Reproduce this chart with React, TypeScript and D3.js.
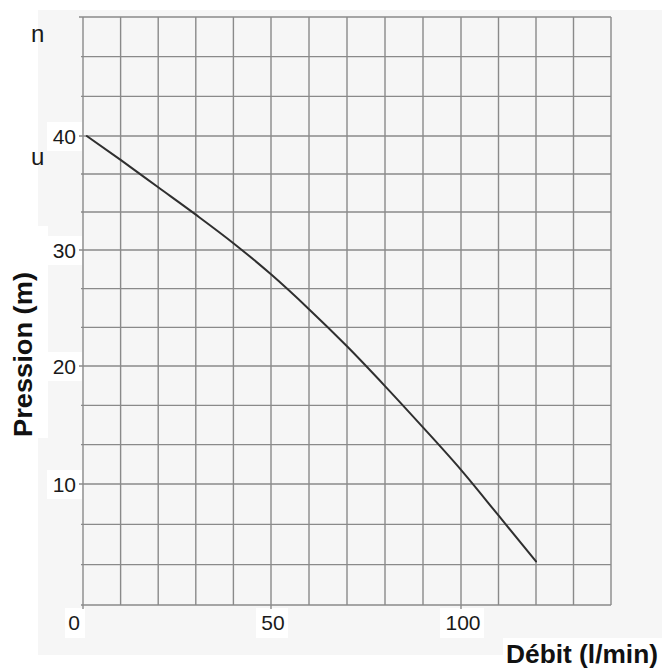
import React from "react";
import * as d3 from "d3";

const flow = [1, 10, 20, 30, 40, 50, 60, 70, 80, 90, 100, 110, 120];
const pressure = [40, 37.9, 35.5, 33.1, 30.6, 27.9, 24.9, 21.7, 18.3, 14.8, 11.2, 7.4, 3.6];
const xTickLabels = [0, 50, 100];
const yTickLabels = [10, 20, 30, 40];
const xTitle = "Débit (l/min)";
const yTitle = "Pression (m)";

const W = 662;
const H = 668;
const FONT = "'Liberation Sans', Arial, Helvetica, sans-serif";

export default function App() {
  // the scanned grid is slightly uneven, so use piecewise-linear scales
  const x = d3.scaleLinear().domain([0, 50, 100, 140]).range([83, 271, 461, 611]);
  const y = d3.scaleLinear().domain([0, 10, 20, 30, 40, 50]).range([605, 484, 366, 250, 136, 17]);

  const xGrid = d3.range(0, 141, 10);
  const yGrid = d3.range(0, 16).map((i) => (i * 50) / 15);

  const pts: [number, number][] = flow.map((f, i) => [f, pressure[i]]);
  const line = d3
    .line<[number, number]>()
    .x((d) => x(d[0]))
    .y((d) => y(d[1]))
    .curve(d3.curveMonotoneX);

  const gridColor = "#8a8a8a";

  return (
    <svg
      width={W}
      height={H}
      style={{ position: "absolute", left: 0, top: 0, background: "#fff" }}
    >
      {/* panel background */}
      <rect x={38} y={10} width={W - 38} height={645} fill="#f6f6f6" />

      {/* white label boxes */}
      <rect x={38} y={226} width={10} height={212} fill="#fff" />
      {yTickLabels.map((v) => (
        <rect key={"yb" + v} x={47} y={y(v) - 14} width={35} height={29} fill="#fff" />
      ))}
      {xTickLabels.map((v) => {
        const w = String(v).length * 12 + 8;
        const cx = v === 0 ? x(0) - 8 : x(v) + 1;
        return <rect key={"xb" + v} x={cx - w / 2} y={608} width={w} height={30} fill="#fff" />;
      })}
      <rect x={503} y={638} width={W - 503} height={H - 638} fill="#fff" />

      {/* grid */}
      <g stroke={gridColor} strokeWidth={1.4}>
        {xGrid.map((v) => (
          <line key={"gx" + v} x1={x(v)} x2={x(v)} y1={y(50)} y2={y(0) + (v % 50 === 0 ? 4 : 0)} />
        ))}
        {yGrid.map((v, i) => (
          <line key={"gy" + i} x1={x(0) - (i % 3 === 0 && i > 0 ? 4 : 2)} x2={x(140)} y1={y(v)} y2={y(v)} />
        ))}
      </g>

      {/* curve */}
      <path d={line(pts) || ""} fill="none" stroke="#2f2f2f" strokeWidth={2} strokeLinecap="round" />

      {/* tick labels */}
      <g fontFamily={FONT} fontSize={21} fill="#1a1a1a">
        {yTickLabels.map((v) => (
          <text key={"yl" + v} x={76} y={y(v) + 7.5} textAnchor="end">
            {v}
          </text>
        ))}
        {xTickLabels.map((v) => (
          <text
            key={"xl" + v}
            x={v === 0 ? x(0) - 9 : x(v) + 2}
            y={630}
            textAnchor="middle"
          >
            {v}
          </text>
        ))}
      </g>

      {/* axis titles */}
      <text
        x={506}
        y={663}
        fontFamily={FONT}
        fontSize={26}
        fontWeight="bold"
        fill="#111"
        textLength={152}
        lengthAdjust="spacingAndGlyphs"
      >
        {xTitle}
      </text>
      <text
        transform={`translate(32,437) rotate(-90)`}
        fontFamily={FONT}
        fontSize={26}
        fontWeight="bold"
        fill="#111"
        textLength={165}
        lengthAdjust="spacingAndGlyphs"
      >
        {yTitle}
      </text>

      {/* clipped text fragments at left edge */}
      <g fontFamily={FONT} fontSize={24} fill="#1a1a1a">
        <text x={31} y={42}>n</text>
        <text x={31} y={165}>u</text>
      </g>
    </svg>
  );
}
